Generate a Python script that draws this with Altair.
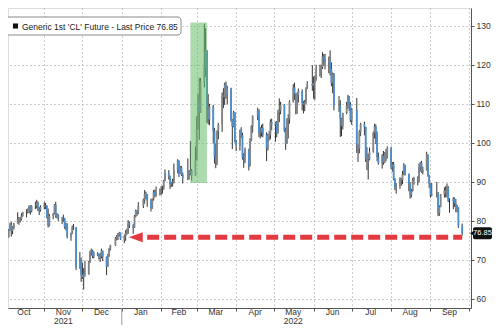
import altair as alt
import pandas as pd
import numpy as np

HOLIDAYS = ["2021-11-25", "2021-12-24", "2022-01-17", "2022-02-21", "2022-04-15",
            "2022-05-30", "2022-06-20", "2022-07-04", "2022-09-05"]
FIRST_OPEN = 74.9

CLOSE = [
    75.45, 75.29, 74.83, 75.03, 75.88,
    77.62, 78.93, 77.43, 78.30, 79.35,
    80.52, 80.64, 80.44, 81.31, 82.28,
    82.44, 82.96, 83.87, 82.50, 83.76,
    83.76, 84.65, 82.66, 82.81, 83.57,
    84.05, 83.91, 80.86, 78.81, 81.27,
    81.93, 84.15, 81.34, 81.59, 80.79,
    80.88, 80.76, 78.36, 79.01, 75.94,
    76.75, 78.50, 78.39, 68.15,
    69.95, 66.18, 65.57, 66.50, 66.26,
    69.49, 72.05, 72.36, 70.94, 71.67,
    71.29, 70.73, 70.87, 72.38, 70.86,
    68.23, 71.12, 72.76, 73.79,
    75.57, 75.98, 76.56, 76.99, 75.21,
    76.08, 76.99, 77.85, 79.46, 78.90,
    78.23, 81.22, 82.64, 82.12, 83.82,
    85.43, 86.96, 86.90, 85.14,
    83.31, 85.60, 87.35, 86.61, 86.82,
    88.15, 88.20, 88.26, 90.27, 92.31,
    91.32, 89.36, 89.66, 89.88, 93.10,
    95.46, 92.07, 93.66, 91.76, 91.07,
    92.35, 92.10, 92.81, 91.59,
    95.72, 103.41, 110.60, 107.67, 115.68,
    119.40, 123.70, 108.70, 106.02, 109.33,
    103.01, 96.44, 95.04, 102.98, 104.70,
    112.12, 111.76, 114.93, 112.34, 113.90,
    105.96, 104.24, 107.82, 100.28, 99.27,
    103.28, 101.96, 96.23, 96.03, 98.26,
    94.29, 100.60, 104.25, 106.95,
    108.21, 102.56, 102.75, 103.79, 102.07,
    98.54, 101.70, 102.02, 105.36, 104.69,
    105.17, 102.41, 107.81, 108.26, 109.77,
    103.09, 99.76, 105.71, 106.13, 110.49,
    114.20, 112.40, 109.59, 112.21, 113.23,
    110.29, 109.77, 110.33, 114.09, 115.07,
    114.67, 115.26, 116.87, 118.87,
    118.50, 119.41, 122.11, 121.51, 120.67,
    120.93, 118.93, 115.31, 117.59, 109.56,
    109.52, 106.19, 104.27, 107.62,
    109.57, 111.76, 109.78, 105.76, 108.43,
    99.50, 98.53, 102.73, 104.79,
    104.09, 95.84, 96.30, 95.78, 97.59,
    102.60, 104.22, 102.26, 96.35, 94.70,
    96.70, 94.98, 97.26, 96.42, 98.62,
    93.89, 94.42, 90.66, 88.54, 89.01,
    90.76, 90.50, 91.93, 94.34, 92.09,
    89.41, 86.53, 87.65, 90.50, 90.77,
    90.23, 93.74, 94.89, 92.52, 93.06,
    97.01, 91.64, 89.55, 86.61, 86.87,
    86.88, 81.94, 83.54, 86.79,
    87.78, 87.31, 88.48, 85.10, 85.11,
    85.73, 84.45, 82.94, 83.49, 78.74,
    76.85,
]

HIGH = [
    76.7, 76.4, 75.5, 75.8, 76.1,
    77.9, 79.5, 79.8, 78.6, 79.5,
    82.2, 81.0, 81.0, 82.0, 82.3,
    83.0, 83.2, 83.9, 84.0, 84.0,
    84.9, 85.4, 85.0, 83.6, 84.0,
    84.9, 84.6, 84.0, 83.2, 81.8,
    82.0, 84.3, 84.9, 82.0, 81.7,
    81.0, 81.6, 80.3, 79.6, 79.4,
    77.0, 78.8, 79.2, 78.0,
    72.0, 70.6, 69.3, 67.9, 69.8,
    69.8, 72.4, 72.9, 72.6, 72.2,
    72.0, 71.6, 71.8, 72.9, 72.3,
    70.3, 71.5, 73.1, 73.9,
    75.9, 76.4, 76.9, 77.2, 77.0,
    76.5, 77.6, 78.0, 80.2, 79.8,
    79.2, 81.5, 82.9, 82.7, 84.8,
    85.7, 87.9, 87.5, 86.3,
    85.7, 85.8, 87.9, 88.0, 88.8,
    88.3, 88.9, 89.0, 90.5, 93.2,
    93.0, 91.6, 90.0, 90.8, 94.7,
    95.8, 94.9, 94.1, 94.0, 92.4,
    96.0, 93.0, 100.5, 93.3,
    99.1, 106.8, 112.5, 116.6, 116.6,
    130.5, 129.4, 123.7, 112.5, 110.0,
    109.7, 103.8, 99.8, 103.2, 105.1,
    112.9, 114.0, 115.4, 115.7, 114.6,
    114.1, 106.1, 108.2, 106.2, 100.8,
    103.4, 104.0, 102.6, 97.4, 98.8,
    98.5, 101.2, 104.5, 107.0,
    109.0, 108.6, 104.0, 104.6, 104.9,
    102.7, 102.3, 103.0, 106.0, 106.2,
    105.4, 105.6, 108.5, 111.4, 110.5,
    109.9, 103.9, 106.3, 107.3, 110.9,
    115.0, 115.4, 112.7, 112.9, 113.9,
    113.7, 110.7, 111.0, 114.2, 115.8,
    119.9, 117.0, 117.2, 120.0,
    120.0, 120.0, 123.2, 122.7, 122.8,
    122.1, 123.7, 120.6, 118.0, 117.9,
    112.0, 110.9, 106.4, 107.7,
    110.5, 112.3, 112.0, 110.4, 108.9,
    111.5, 99.6, 103.3, 105.1,
    105.4, 103.7, 98.9, 97.2, 98.8,
    102.9, 104.9, 104.7, 102.9, 97.5,
    97.1, 97.9, 97.6, 98.4, 99.1,
    99.0, 95.1, 95.1, 91.0, 89.7,
    91.2, 91.0, 92.8, 94.8, 94.4,
    92.0, 89.9, 88.2, 91.0, 91.3,
    91.4, 94.7, 95.1, 95.4, 93.9,
    97.7, 97.0, 91.8, 89.6, 89.7,
    90.0, 87.4, 84.0, 86.9,
    88.6, 88.9, 89.6, 88.9, 85.8,
    86.1, 86.0, 85.6, 84.1, 83.3,
    79.3,
]

LOW = [
    73.9, 74.2, 73.9, 74.1, 74.4,
    75.7, 77.4, 76.0, 76.6, 77.8,
    79.5, 79.0, 79.6, 80.1, 81.0,
    80.9, 81.9, 82.0, 81.6, 82.2,
    83.0, 83.2, 82.5, 81.5, 82.4,
    83.0, 83.0, 80.6, 78.3, 78.6,
    80.4, 81.7, 80.8, 80.6, 80.0,
    79.2, 79.8, 78.0, 77.6, 75.5,
    74.9, 76.6, 77.7, 67.4,
    67.7, 64.4, 65.1, 62.4, 65.7,
    66.6, 69.2, 71.1, 70.4, 70.4,
    71.0, 70.1, 69.5, 70.4, 69.7,
    66.1, 68.3, 70.8, 72.4,
    73.6, 75.0, 75.1, 76.0, 75.1,
    74.3, 74.9, 76.4, 76.7, 78.2,
    76.7, 78.2, 80.9, 81.3, 81.7,
    83.3, 84.4, 85.6, 83.6,
    82.4, 83.1, 85.2, 86.0, 86.2,
    86.5, 86.6, 87.0, 88.0, 90.1,
    90.6, 88.2, 88.7, 88.8, 89.6,
    92.2, 91.2, 92.0, 91.5, 89.6,
    90.4, 90.6, 91.7, 90.3,
    93.3, 95.5, 103.5, 100.7, 108.4,
    114.2, 116.9, 105.1, 104.7, 104.5,
    99.8, 94.7, 93.5, 94.3, 100.9,
    102.8, 108.9, 109.7, 111.3, 109.9,
    105.4, 98.4, 104.0, 100.1, 97.9,
    98.0, 101.2, 95.7, 93.6, 94.8,
    92.9, 93.9, 100.4, 102.6,
    105.8, 101.5, 101.1, 101.6, 101.4,
    95.3, 98.0, 100.6, 100.9, 103.2,
    100.3, 101.4, 102.7, 105.3, 107.3,
    102.7, 98.2, 100.4, 101.1, 104.9,
    110.3, 111.0, 107.3, 107.4, 110.3,
    108.3, 107.5, 108.1, 110.0, 113.8,
    113.3, 111.3, 111.0, 115.9,
    117.0, 116.6, 118.9, 119.8, 118.8,
    117.8, 117.2, 114.5, 112.7, 108.3,
    107.9, 101.5, 101.7, 103.4,
    107.3, 108.7, 108.1, 105.3, 104.6,
    97.4, 95.1, 97.3, 101.7,
    101.9, 95.1, 93.0, 90.6, 95.5,
    97.5, 101.1, 99.7, 95.3, 94.4,
    93.4, 94.4, 94.8, 95.3, 96.0,
    93.3, 92.6, 90.4, 87.9, 87.0,
    88.2, 89.0, 89.4, 91.7, 91.6,
    87.6, 85.7, 86.0, 87.5, 89.3,
    89.1, 89.9, 92.6, 92.3, 91.9,
    92.9, 91.3, 88.4, 86.0, 86.3,
    86.0, 81.2, 81.3, 83.5,
    86.0, 86.0, 86.0, 84.8, 82.1,
    83.0, 83.6, 82.2, 82.2, 78.2,
    76.3,
]

MONTH_LABELS = ["Oct", "Nov", "Dec", "Jan", "Feb", "Mar", "Apr", "May", "Jun", "Jul", "Aug", "Sep"]
MONTH_MIDS = ["2021-10-16", "2021-11-16", "2021-12-16", "2022-01-16", "2022-02-15", "2022-03-16",
              "2022-04-16", "2022-05-16", "2022-06-16", "2022-07-16", "2022-08-16", "2022-09-16"]
MONTH_STARTS = ["2021-11-01", "2021-12-01", "2022-01-01", "2022-02-01", "2022-03-01", "2022-04-01",
                "2022-05-01", "2022-06-01", "2022-07-01", "2022-08-01", "2022-09-01", "2022-10-01"]
YEAR_LABELS = ["2021", "2022"]
YEAR_POS = ["2021-11-16", "2022-05-16"]
YEAR_SPLIT = ["2022-01-01"]
Y_TICKS = [60, 70, 80, 90, 100, 110, 120, 130]

LEGEND_TEXT = "Generic 1st 'CL' Future - Last Price 76.85"
LAST_PRICE = 76.85
LAST_LABEL = "76.85"

HIGHLIGHT_START = ["2022-02-24"]
HIGHLIGHT_END = ["2022-03-09"]
HIGHLIGHT_LOW = [89.7]
HIGHLIGHT_HIGH = [130.8]

ARROW_LEVEL = 75.8
ARROW_HEAD_DATE = "2022-01-12"
ARROW_LINE_START = "2022-01-21"
ARROW_LINE_END = "2022-09-26"

# ---------------- tables ----------------
dates = pd.bdate_range("2021-09-27", "2022-09-26", freq="C", holidays=HOLIDAYS)
assert len(dates) == len(CLOSE) == len(HIGH) == len(LOW)
opens = [FIRST_OPEN] + CLOSE[:-1]
df = pd.DataFrame({"date": dates, "open": opens, "close": CLOSE})
df["high"] = np.maximum.reduce([np.array(HIGH), df["open"].values, df["close"].values])
df["low"] = np.minimum.reduce([np.array(LOW), df["open"].values, df["close"].values])
df["dir"] = np.where(df["close"] >= df["open"], "up", "down")

# svg must stay <= 484 px wide (page content box), otherwise the browser shrinks it
W, H = 463, 300
RIGHT_PAD = 21
FONT = "Liberation Sans"
GRID = "#9a9a9a"
AXIS = "#555555"

x_scale = alt.Scale(domain=[alt.DateTime(year=2021, month=10, date=3, hours=10),
                            alt.DateTime(year=2022, month=10, date=2, hours=22)], padding=0)
y_scale = alt.Scale(domain=[57.69, 134.53], nice=False, zero=False, padding=0)

x_axis = alt.Axis(values=[alt.DateTime(year=int(s[:4]), month=int(s[5:7]), date=1) for s in MONTH_STARTS],
                  labels=False, title=None, grid=True, gridDash=[1, 3], gridColor=GRID,
                  domainColor=AXIS, tickColor=AXIS, tickSize=3)
y_axis = alt.Axis(orient="right", values=Y_TICKS, title=None, grid=True, gridDash=[1, 3],
                  gridColor=GRID, domainColor=AXIS, tickColor=AXIS, tickSize=3,
                  labelPadding=2, labelFontSize=8.5, labelColor="#333333", labelFont=FONT)

base = alt.Chart(df)
wicks = base.mark_rule(color="#333333", strokeWidth=1, clip=True).encode(
    x=alt.X("date:T", scale=x_scale, axis=x_axis),
    y=alt.Y("low:Q", scale=y_scale, axis=y_axis),
    y2="high:Q",
)
bodies = base.mark_bar(size=1.8, clip=True).encode(
    x=alt.X("date:T"),
    y=alt.Y("open:Q"),
    y2="close:Q",
    color=alt.Color("dir:N", scale=alt.Scale(domain=["up", "down"], range=["#858585", "#4a8ed0"]),
                    legend=None),
)

hl_df = pd.DataFrame({"s": pd.to_datetime(HIGHLIGHT_START), "e": pd.to_datetime(HIGHLIGHT_END),
                      "lo": HIGHLIGHT_LOW, "hi": HIGHLIGHT_HIGH})
highlight = alt.Chart(hl_df).mark_rect(color="#66bb6a", opacity=0.55).encode(
    x="s:T", x2="e:T", y="lo:Q", y2="hi:Q")

arrow_df = pd.DataFrame({"s": pd.to_datetime([ARROW_LINE_START]), "e": pd.to_datetime([ARROW_LINE_END]),
                         "h": pd.to_datetime([ARROW_HEAD_DATE]), "v": [ARROW_LEVEL]})
arrow_line = alt.Chart(arrow_df).mark_rule(color="#e23a3f", strokeWidth=5, strokeDash=[12, 5]).encode(
    x="s:T", x2="e:T", y="v:Q")
arrow_head = alt.Chart(arrow_df).mark_point(
    shape="M -1 0 L 1 -0.72 L 1 0.72 Z", filled=True, size=196, color="#e23a3f", opacity=1).encode(
    x="h:T", y="v:Q")

one = pd.DataFrame({"t": [LEGEND_TEXT]})
legend_box = alt.Chart(one).mark_rect(fill="white", stroke="#8a8a8a", strokeWidth=1, cornerRadius=3).encode(
    x=alt.value(-5), x2=alt.value(173), y=alt.value(9), y2=alt.value(27))
legend_sq = alt.Chart(one).mark_square(size=26, color="#111111", opacity=1).encode(
    x=alt.value(7.5), y=alt.value(18))
legend_txt = alt.Chart(one).mark_text(align="left", baseline="middle", fontSize=8.5, font=FONT,
                                      color="#222222").encode(
    x=alt.value(14), y=alt.value(18.5), text="t:N")

tag_df = pd.DataFrame({"v": [LAST_PRICE], "hi": [LAST_PRICE + 1.55], "lo": [LAST_PRICE - 1.55],
                       "t": [LAST_LABEL]})
tag_box = alt.Chart(tag_df).mark_rect(color="#111111", cornerRadius=2).encode(
    x=alt.value(W + 2), x2=alt.value(W + RIGHT_PAD), y="hi:Q", y2="lo:Q")
tag_notch = alt.Chart(tag_df).mark_point(shape="triangle-left", filled=True, size=24,
                                         color="#111111", opacity=1).encode(
    x=alt.value(W + 1), y="v:Q")
tag_txt = alt.Chart(tag_df).mark_text(align="center", baseline="middle", fontSize=7.5, font=FONT,
                                      color="white").encode(
    x=alt.value(W + 11.5), y="v:Q", text="t:N")

month_df = pd.DataFrame({"d": pd.to_datetime(MONTH_MIDS), "m": MONTH_LABELS})
month_txt = alt.Chart(month_df).mark_text(baseline="top", fontSize=8.5, font=FONT, color="#333333").encode(
    x="d:T", y=alt.value(H), text="m:N")
year_df = pd.DataFrame({"d": pd.to_datetime(YEAR_POS), "y": YEAR_LABELS})
year_txt = alt.Chart(year_df).mark_text(baseline="top", fontSize=8.5, font=FONT, color="#333333").encode(
    x="d:T", y=alt.value(H + 9), text="y:N")
split_df = pd.DataFrame({"d": pd.to_datetime(YEAR_SPLIT)})
year_split = alt.Chart(split_df).mark_rule(color="#9a9a9a", strokeWidth=1).encode(
    x="d:T", y=alt.value(H), y2=alt.value(H + 17))

chart = alt.layer(
    wicks, bodies, highlight, arrow_line, arrow_head,
    legend_box, legend_sq, legend_txt,
    tag_box, tag_notch, tag_txt,
    month_txt, year_txt, year_split,
).properties(
    width=W, height=H,
    autosize=alt.AutoSizeParams(type="none"),
    padding={"left": 0, "top": 0, "right": RIGHT_PAD, "bottom": 17},
).configure_view(strokeWidth=0).configure(font=FONT, background="white")

chart.save("out.html", embed_options={"renderer": "svg", "actions": False})
